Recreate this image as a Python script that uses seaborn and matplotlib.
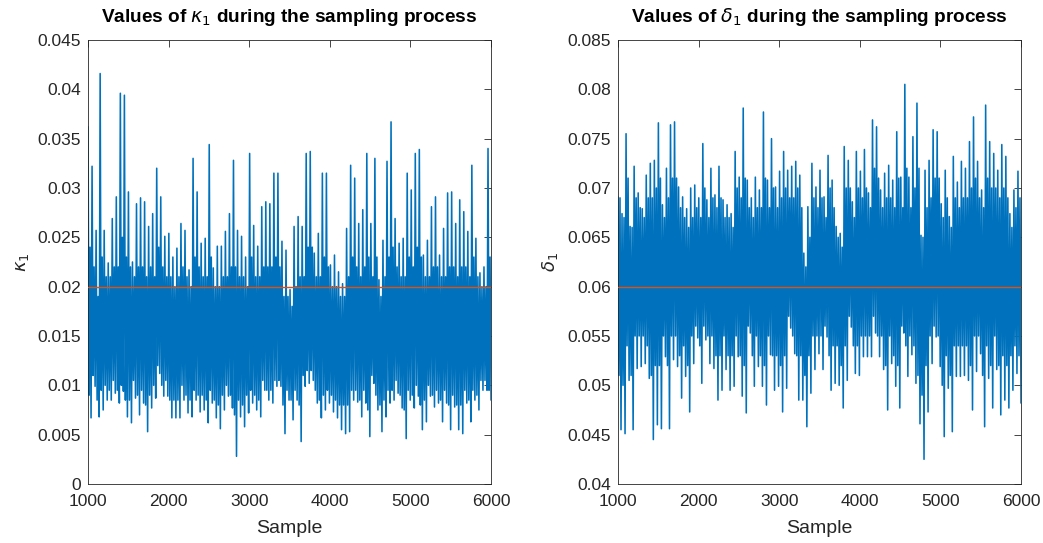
import numpy as np
import pandas as pd
import matplotlib
matplotlib.use("Agg")
import matplotlib.pyplot as plt
import seaborn as sns
from matplotlib.ticker import FuncFormatter

# ---------------- data (per 50-sample bin) ----------------
# kappa_1 : bin maxima, bin minima, second-highest / second-lowest excursions
kappa_hi = [0.0362, 0.0322, 0.0257, 0.0416, 0.0257, 0.0224, 0.0269, 0.0291, 0.0396, 0.0394,
            0.0296, 0.0225, 0.0284, 0.0290, 0.0286, 0.0261, 0.0274, 0.0320, 0.0291, 0.0251,
            0.0254, 0.0230, 0.0239, 0.0264, 0.0257, 0.0217, 0.0330, 0.0296, 0.0244, 0.0249,
            0.0344, 0.0219, 0.0241, 0.0241, 0.0256, 0.0274, 0.0328, 0.0257, 0.0251, 0.0230,
            0.0335, 0.0262, 0.0241, 0.0281, 0.0286, 0.0284, 0.0315, 0.0315, 0.0246, 0.0237,
            0.0197, 0.0261, 0.0271, 0.0261, 0.0335, 0.0337, 0.0234, 0.0254, 0.0315, 0.0315,
            0.0222, 0.0232, 0.0215, 0.0203, 0.0259, 0.0323, 0.0310, 0.0264, 0.0278, 0.0335,
            0.0264, 0.0330, 0.0207, 0.0247, 0.0327, 0.0367, 0.0269, 0.0244, 0.0249, 0.0315,
            0.0298, 0.0335, 0.0339, 0.0232, 0.0247, 0.0281, 0.0291, 0.0232, 0.0259, 0.0295,
            0.0296, 0.0264, 0.0288, 0.0276, 0.0256, 0.0323, 0.0249, 0.0214, 0.0220, 0.0340]
kappa_lo = [0.0067, 0.0099, 0.0068, 0.0075, 0.0085, 0.0085, 0.0092, 0.0082, 0.0094, 0.0068,
            0.0062, 0.0087, 0.0070, 0.0082, 0.0053, 0.0077, 0.0087, 0.0112, 0.0089, 0.0089,
            0.0067, 0.0067, 0.0067, 0.0085, 0.0072, 0.0068, 0.0085, 0.0073, 0.0075, 0.0062,
            0.0082, 0.0067, 0.0056, 0.0075, 0.0089, 0.0077, 0.0028, 0.0068, 0.0058, 0.0072,
            0.0082, 0.0075, 0.0068, 0.0095, 0.0085, 0.0082, 0.0099, 0.0099, 0.0051, 0.0085,
            0.0065, 0.0085, 0.0043, 0.0099, 0.0102, 0.0105, 0.0082, 0.0067, 0.0075, 0.0082,
            0.0073, 0.0067, 0.0055, 0.0051, 0.0053, 0.0085, 0.0083, 0.0068, 0.0082, 0.0048,
            0.0102, 0.0075, 0.0053, 0.0068, 0.0082, 0.0085, 0.0092, 0.0077, 0.0046, 0.0085,
            0.0077, 0.0089, 0.0055, 0.0063, 0.0089, 0.0078, 0.0082, 0.0063, 0.0082, 0.0055,
            0.0078, 0.0055, 0.0051, 0.0082, 0.0063, 0.0085, 0.0075, 0.0095, 0.0095, 0.0085]
kappa_cu = [0.024, 0.022, 0.019, 0.023, 0.021, 0.021, 0.022, 0.022, 0.025, 0.023,
            0.022, 0.021, 0.022, 0.022, 0.021, 0.022, 0.021, 0.024, 0.022, 0.021,
            0.021, 0.020, 0.021, 0.022, 0.021, 0.020, 0.023, 0.022, 0.021, 0.021,
            0.023, 0.020, 0.020, 0.021, 0.021, 0.022, 0.022, 0.021, 0.021, 0.020,
            0.023, 0.021, 0.021, 0.022, 0.022, 0.022, 0.023, 0.022, 0.019, 0.019,
            0.018, 0.020, 0.021, 0.021, 0.024, 0.024, 0.021, 0.021, 0.023, 0.022,
            0.020, 0.020, 0.019, 0.019, 0.021, 0.023, 0.022, 0.021, 0.022, 0.023,
            0.021, 0.023, 0.019, 0.021, 0.023, 0.024, 0.022, 0.021, 0.021, 0.023,
            0.022, 0.024, 0.023, 0.021, 0.021, 0.022, 0.022, 0.021, 0.021, 0.022,
            0.022, 0.021, 0.022, 0.022, 0.021, 0.023, 0.021, 0.020, 0.020, 0.023]
kappa_cl = [0.009, 0.011, 0.0085, 0.0095, 0.010, 0.0095, 0.0105, 0.0095, 0.010, 0.0085,
            0.0085, 0.0105, 0.009, 0.0095, 0.008, 0.009, 0.010, 0.012, 0.010, 0.0105,
            0.0085, 0.0085, 0.0085, 0.010, 0.009, 0.0085, 0.0095, 0.009, 0.009, 0.0085,
            0.0095, 0.0085, 0.008, 0.009, 0.010, 0.009, 0.007, 0.0085, 0.008, 0.009,
            0.0095, 0.009, 0.0085, 0.0105, 0.0095, 0.0095, 0.0105, 0.0105, 0.008, 0.0095,
            0.0085, 0.0095, 0.008, 0.011, 0.0115, 0.0115, 0.0095, 0.0085, 0.009, 0.0095,
            0.009, 0.0085, 0.008, 0.008, 0.008, 0.0095, 0.0095, 0.0085, 0.0095, 0.0075,
            0.011, 0.009, 0.008, 0.0085, 0.0095, 0.0095, 0.0105, 0.009, 0.0075, 0.0095,
            0.009, 0.010, 0.008, 0.0085, 0.010, 0.009, 0.0095, 0.0085, 0.0095, 0.008,
            0.009, 0.008, 0.008, 0.0095, 0.0085, 0.0095, 0.009, 0.0105, 0.0105, 0.0095]

# delta_1
delta_hi = [0.0691, 0.0674, 0.0755, 0.0661, 0.0722, 0.0695, 0.0679, 0.0713, 0.0725, 0.0728,
            0.0766, 0.0683, 0.0720, 0.0764, 0.0767, 0.0701, 0.0691, 0.0679, 0.0700, 0.0703,
            0.0690, 0.0745, 0.0688, 0.0720, 0.0693, 0.0722, 0.0688, 0.0683, 0.0674, 0.0737,
            0.0711, 0.0781, 0.0708, 0.0690, 0.0711, 0.0698, 0.0777, 0.0708, 0.0750, 0.0701,
            0.0717, 0.0737, 0.0718, 0.0722, 0.0727, 0.0713, 0.0634, 0.0681, 0.0725, 0.0701,
            0.0718, 0.0691, 0.0733, 0.0708, 0.0661, 0.0654, 0.0742, 0.0728, 0.0686, 0.0737,
            0.0717, 0.0739, 0.0695, 0.0769, 0.0762, 0.0698, 0.0715, 0.0723, 0.0708, 0.0757,
            0.0711, 0.0805, 0.0711, 0.0752, 0.0786, 0.0652, 0.0718, 0.0728, 0.0759, 0.0757,
            0.0684, 0.0718, 0.0671, 0.0732, 0.0706, 0.0727, 0.0720, 0.0747, 0.0772, 0.0727,
            0.0698, 0.0784, 0.0747, 0.0735, 0.0718, 0.0744, 0.0732, 0.0674, 0.0698, 0.0717]
delta_lo = [0.0455, 0.0451, 0.0505, 0.0455, 0.0517, 0.0519, 0.0522, 0.0507, 0.0445, 0.0460,
            0.0456, 0.0529, 0.0456, 0.0526, 0.0519, 0.0487, 0.0509, 0.0473, 0.0522, 0.0548,
            0.0502, 0.0546, 0.0522, 0.0517, 0.0485, 0.0495, 0.0516, 0.0495, 0.0499, 0.0529,
            0.0489, 0.0472, 0.0553, 0.0499, 0.0519, 0.0499, 0.0480, 0.0531, 0.0495, 0.0499,
            0.0473, 0.0497, 0.0558, 0.0532, 0.0485, 0.0485, 0.0458, 0.0492, 0.0516, 0.0532,
            0.0516, 0.0549, 0.0495, 0.0502, 0.0500, 0.0477, 0.0505, 0.0559, 0.0512, 0.0510,
            0.0529, 0.0529, 0.0529, 0.0553, 0.0529, 0.0516, 0.0475, 0.0522, 0.0499, 0.0477,
            0.0553, 0.0509, 0.0531, 0.0502, 0.0461, 0.0425, 0.0473, 0.0522, 0.0549, 0.0519,
            0.0448, 0.0497, 0.0453, 0.0509, 0.0509, 0.0510, 0.0505, 0.0475, 0.0514, 0.0532,
            0.0458, 0.0507, 0.0477, 0.0516, 0.0470, 0.0485, 0.0477, 0.0495, 0.0512, 0.0482]
delta_cu = [0.069, 0.067, 0.071, 0.066, 0.069, 0.068, 0.067, 0.069, 0.069, 0.070,
            0.071, 0.067, 0.069, 0.071, 0.071, 0.068, 0.067, 0.066, 0.067, 0.068,
            0.067, 0.070, 0.067, 0.069, 0.068, 0.069, 0.067, 0.067, 0.066, 0.070,
            0.069, 0.071, 0.068, 0.067, 0.068, 0.068, 0.071, 0.068, 0.070, 0.068,
            0.069, 0.070, 0.069, 0.069, 0.070, 0.068, 0.062, 0.065, 0.069, 0.068,
            0.069, 0.067, 0.070, 0.068, 0.065, 0.064, 0.070, 0.070, 0.067, 0.070,
            0.069, 0.070, 0.068, 0.072, 0.071, 0.068, 0.069, 0.069, 0.068, 0.071,
            0.068, 0.072, 0.068, 0.070, 0.072, 0.065, 0.068, 0.069, 0.071, 0.071,
            0.067, 0.069, 0.066, 0.069, 0.068, 0.069, 0.069, 0.070, 0.071, 0.069,
            0.068, 0.071, 0.070, 0.070, 0.069, 0.070, 0.069, 0.066, 0.068, 0.069]
delta_cl = [0.051, 0.050, 0.054, 0.051, 0.055, 0.055, 0.055, 0.054, 0.051, 0.052,
            0.052, 0.055, 0.052, 0.055, 0.055, 0.053, 0.054, 0.052, 0.055, 0.056,
            0.054, 0.056, 0.055, 0.055, 0.053, 0.053, 0.055, 0.053, 0.053, 0.055,
            0.053, 0.052, 0.056, 0.053, 0.055, 0.053, 0.052, 0.055, 0.053, 0.053,
            0.052, 0.053, 0.057, 0.055, 0.053, 0.053, 0.051, 0.053, 0.055, 0.055,
            0.055, 0.056, 0.053, 0.054, 0.054, 0.052, 0.054, 0.057, 0.054, 0.054,
            0.055, 0.055, 0.055, 0.057, 0.055, 0.055, 0.052, 0.055, 0.053, 0.052,
            0.056, 0.054, 0.055, 0.054, 0.051, 0.049, 0.052, 0.055, 0.056, 0.055,
            0.050, 0.053, 0.051, 0.054, 0.054, 0.054, 0.054, 0.052, 0.055, 0.055,
            0.051, 0.054, 0.052, 0.055, 0.052, 0.053, 0.052, 0.053, 0.054, 0.053]

true_kappa = 0.02
true_delta = 0.06
x_ticks = [1000, 2000, 3000, 4000, 5000, 6000]
kappa_ticks = [0, 0.005, 0.01, 0.015, 0.02, 0.025, 0.03, 0.035, 0.04, 0.045]
delta_ticks = [0.04, 0.045, 0.05, 0.055, 0.06, 0.065, 0.07, 0.075, 0.08, 0.085]
sample_start, sample_end = 1000, 6000


def trace_frame(hi, cl, cu, lo):
    # within each bin: peak, second-lowest, second-highest, minimum
    vals = np.column_stack([hi, cl, cu, lo]).ravel()
    samples = np.linspace(sample_start, sample_end, len(vals))
    return pd.DataFrame({"Sample": samples, "value": vals})


kappa_df = trace_frame(kappa_hi, kappa_cl, kappa_cu, kappa_lo)
delta_df = trace_frame(delta_hi, delta_cl, delta_cu, delta_lo)

# ---------------- style ----------------
sns.set_style("white")
plt.rcParams["font.family"] = ["Liberation Sans", "DejaVu Sans"]
plt.rcParams["mathtext.fontset"] = "dejavusans"

BLUE = "#0072BD"
RED = "#D95319"
DARK = "#262626"

fig = plt.figure(figsize=(10.43, 5.43), dpi=100)
ax1 = fig.add_axes([0.0844, 0.1087, 0.3864, 0.8177])
ax2 = fig.add_axes([0.5925, 0.1087, 0.3864, 0.8177])


def style_axis(ax, df, truth, yticks, ylabel, title):
    sns.lineplot(data=df, x="Sample", y="value", ax=ax, color=BLUE,
                 linewidth=1.15, sort=False, estimator=None)
    ax.axhline(truth, color=RED, linewidth=1.0, zorder=5)
    ax.set_xlim(sample_start, sample_end)
    ax.set_ylim(yticks[0], yticks[-1])
    ax.set_xticks(x_ticks)
    ax.set_yticks(yticks)
    ax.yaxis.set_major_formatter(FuncFormatter(lambda v, p: "%g" % round(v, 4)))
    ax.tick_params(direction="in", length=5, width=0.6, colors=DARK,
                   labelsize=12.5, top=True, right=True)
    ax.tick_params(axis="x", pad=7)
    ax.tick_params(axis="y", pad=5)
    for sp in ax.spines.values():
        sp.set_visible(True)
        sp.set_color(DARK)
        sp.set_linewidth(0.6)
    ax.set_xlabel("Sample", fontsize=14, color=DARK, labelpad=8)
    ax.set_ylabel(ylabel, fontsize=13, color=DARK, labelpad=5)
    ax.set_title(title, fontsize=13.7, fontweight="bold", color="black", pad=13)


style_axis(ax1, kappa_df, true_kappa, kappa_ticks, r"$\kappa_1$",
           r"Values of $\kappa_1$ during the sampling process")
style_axis(ax2, delta_df, true_delta, delta_ticks, r"$\delta_1$",
           r"Values of $\delta_1$ during the sampling process")

fig.savefig("out.png", dpi=100, facecolor="white")
